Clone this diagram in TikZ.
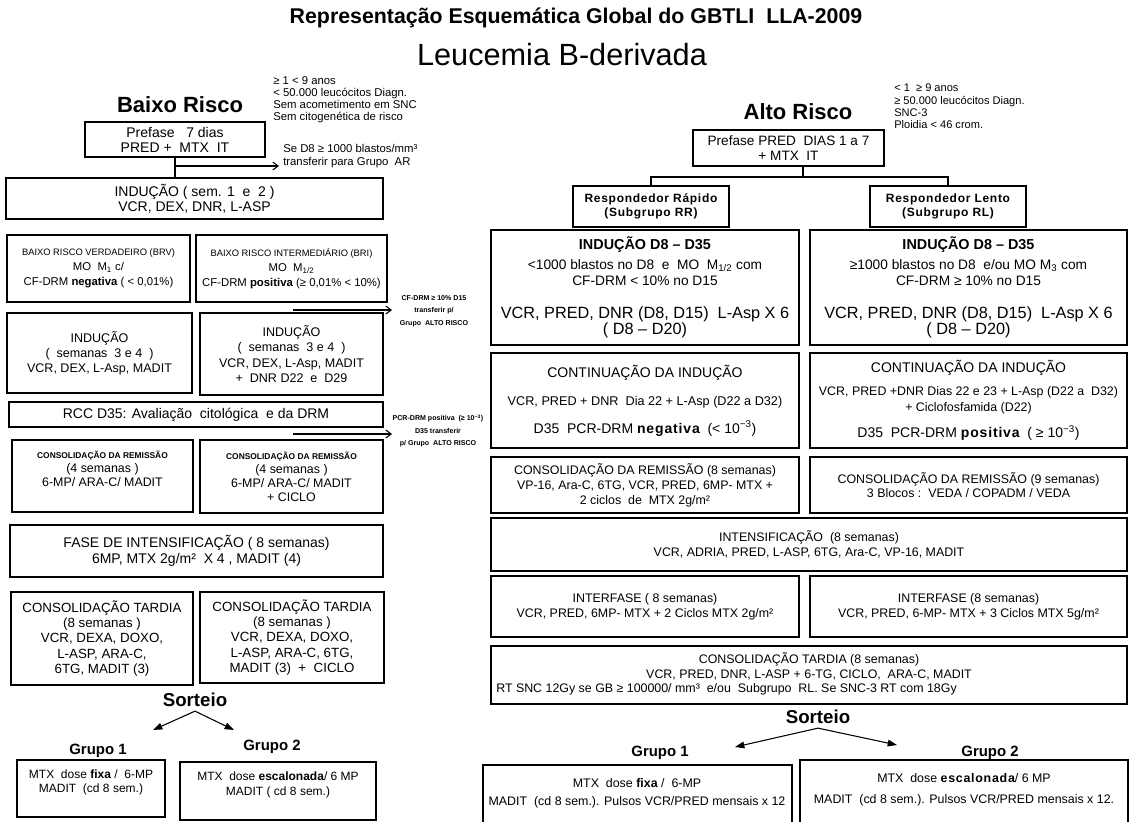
\documentclass[tikz,border=0pt]{standalone}
\usepackage{fontspec}
\setmainfont{Liberation Sans}
\newfontfamily\spacedfont[LetterSpace=6]{Liberation Sans}
\usetikzlibrary{arrows.meta}
\newcommand{\fs}[2]{\fontsize{#1pt}{#2pt}\selectfont}
\newcommand{\sbf}[1]{{\spacedfont\bfseries #1}}
% framed box given by two corners (pixel units)
\newcommand{\bx}[7][]{\node[box,minimum width={(#5-#3)*0.75pt},minimum height={(#6-#4)*0.75pt},#1] (#2) at ({(#3+#5)/2},{(#4+#6)/2}) {#7};}
\begin{document}
\begin{tikzpicture}[x=0.75pt,y=-0.75pt,
  box/.style={draw,line width=1.1pt,inner sep=1pt,align=center},
  txt/.style={inner sep=0pt,align=center},
  note/.style={inner sep=0pt,align=left,anchor=north west},
  conn/.style={line width=0.9pt},
  tarr/.style={-{Straight Barb[length=4pt,width=6pt]},line width=0.8pt},
  sarr/.style={-{Triangle[length=7pt,width=5pt]},line width=0.8pt}]
\useasboundingbox (0,0) rectangle (1130,821);
\fill[white] (0,0) rectangle (1130,821);

% ---------- headings ----------
\node[txt,font=\bfseries\fs{16}{19}] (title) at (576,18) {Representação Esquemática Global do GBTLI\ \ LLA-2009};
\node[txt,font=\fs{23}{27}] (subtitle) at (562,55) {Leucemia B-derivada};

% ---------- low risk branch ----------
\node[txt,font=\bfseries\fs{16.5}{20}] (br) at (180,105) {Baixo Risco};
\node[note,font=\fs{8.5}{9.2}] (brnote) at (273,76) {≥ 1 < 9 anos\\< 50.000 leucócitos Diagn.\\Sem acometimento em SNC\\Sem citogenética de risco};

\bx[font=\fs{10.5}{11.25}]{pre}{85}{122}{265}{157}{Prefase\ \ \ 7 dias\\PRED +\ \ MTX\ \ IT}
\bx[font=\fs{10.5}{11.25}]{ind}{6}{178}{383}{219}{INDUÇÃO ( sem. 1\ \ e\ \ 2 )\\VCR, DEX, DNR, L-ASP}
\draw[conn] (pre.south) -- (pre.south |- ind.north);
\coordinate (tj) at (175,166);
\coordinate (te) at (279,166);
\draw[tarr] (tj) -- (te);
\node[note,font=\fs{8.5}{9.5}] (trar) at (283,144) {Se D8 ≥ 1000 blastos/mm³\\transferir para Grupo\ \ AR};

\bx[font=\fs{8.5}{11.25}]{brv}{7}{235}{190}{302}{{\fs{7}{8}BAIXO RISCO VERDADEIRO (BRV)}\\MO\ \ M\textsubscript{1} c/\\CF-DRM \textbf{negativa} ( < 0,01\%)}
\bx[font=\fs{8.5}{11.25}]{bri}{196}{235}{387}{302}{{\fs{7}{8}BAIXO RISCO INTERMEDIÁRIO (BRI)}\\MO\ \ M\textsubscript{1/2}\\CF-DRM \textbf{positiva} (≥ 0,01\% < 10\%)}

\coordinate (t1s) at (293,310);
\coordinate (t1e) at (392,310);
\draw[tarr] (t1s) -- (t1e);
\node[txt,font=\bfseries\fs{5.3}{9.4}] (tr1) at (434,311) {CF-DRM ≥ 10\% D15\\transferir p/\\Grupo\ \ ALTO RISCO};

\bx[font=\fs{9.4}{11.25}]{ia}{7}{313}{192}{393}{INDUÇÃO\\(\ \ semanas\ \ 3 e 4\ \ )\\VCR, DEX, L-Asp, MADIT}
\bx[font=\fs{9.4}{11.5}]{ib}{200}{313}{383}{395}{INDUÇÃO\\(\ \ semanas\ \ 3 e 4\ \ )\\VCR, DEX, L-Asp, MADIT\\+\ \ DNR D22\ \ e\ \ D29}

\bx[font=\fs{10.5}{12}]{rcc}{9}{402}{383}{427}{RCC D35: Avaliação\ \ citológica\ \ e da DRM}

\coordinate (t2s) at (293,434);
\coordinate (t2e) at (392,434);
\draw[tarr] (t2s) -- (t2e);
\node[txt,font=\bfseries\fs{5.3}{9.4}] (tr2) at (438,431) {PCR-DRM positiva\ \ (≥ 10\textsuperscript{−3})\\D35 transferir\\p/ Grupo\ \ ALTO RISCO};

\bx[font=\fs{9.3}{10.5}]{cra}{12}{440}{193}{512}{{\bfseries\fs{6.3}{7}CONSOLIDAÇÃO DA REMISSÃO}\\(4 semanas )\\6-MP/ ARA-C/ MADIT\\\mbox{}}
\bx[font=\fs{9.3}{10.5}]{crb}{200}{440}{383}{513}{{\bfseries\fs{6.3}{7}CONSOLIDAÇÃO DA REMISSÃO}\\(4 semanas )\\6-MP/ ARA-C/ MADIT\\+ CICLO}

\bx[font=\fs{10.5}{12}]{fase}{10}{525}{383}{577}{FASE DE INTENSIFICAÇÃO ( 8 semanas)\\6MP, MTX 2g/m²\ \ X 4 , MADIT (4)}

\bx[font=\fs{10}{11.5}]{cta}{11}{592}{193}{685}{CONSOLIDAÇÃO TARDIA\\(8 semanas )\\VCR, DEXA, DOXO,\\L-ASP, ARA-C,\\6TG, MADIT (3)}
\bx[font=\fs{10}{11.5}]{ctb}{200}{592}{384}{683}{CONSOLIDAÇÃO TARDIA\\(8 semanas )\\VCR, DEXA, DOXO,\\L-ASP, ARA-C, 6TG,\\MADIT (3)\ \ +\ \ CICLO}

\node[txt,inner sep=3pt,font=\bfseries\fs{14}{16}] (sa) at (195,700) {Sorteio};
\coordinate (sa1) at (153,730);
\coordinate (sa2) at (234,730);
\draw[sarr] (sa.south) -- (sa1);
\draw[sarr] (sa.south) -- (sa2);
\node[txt,font=\bfseries\fs{11.2}{13}] (ga1) at (98,751) {Grupo 1};
\node[txt,font=\bfseries\fs{11.2}{13}] (ga2) at (272,747) {Grupo 2};
\bx{gba}{17}{760}{165}{817}{}
\node[txt,font=\fs{9}{10.5}] (gbat) at (91,782) {MTX\ \ dose \textbf{fixa} /\ \ 6-MP\\MADIT\ \ (cd 8 sem.)};
\bx{gbb}{180}{762}{376}{820}{}
\node[txt,font=\fs{9}{11.5}] (gbbt) at (278,785) {MTX\ \ dose \textbf{escalonada}/ 6 MP\\MADIT ( cd 8 sem.)};

% ---------- high risk branch ----------
\node[txt,font=\bfseries\fs{16.5}{20}] (ar) at (798,112) {Alto Risco};
\node[note,font=\fs{8.3}{9.2}] (arnote) at (894,84) {< 1\ \ ≥ 9 anos\\≥ 50.000 leucócitos Diagn.\\SNC-3\\Ploidia < 46 crom.};

\bx[font=\fs{10.2}{11.25}]{preb}{693}{130}{884}{166}{Prefase PRED\ \ DIAS 1 a 7\\+ MTX\ \ IT}
\bx[font=\fs{9}{10.5}]{rr}{573}{186}{729}{227}{\sbf{Respondedor Rápido}\\\sbf{(Subgrupo RR)}}
\bx[font=\fs{9}{10.5}]{rl}{870}{186}{1026}{227}{\sbf{Respondedor Lento}\\\sbf{(Subgrupo RL)}}
\coordinate (sj) at (803,177);
\draw[conn] (sj |- preb.south) -- (sj);
\draw[conn] (rr.north) |- (sj) -| (rl.north);

\bx[font=\fs{10.3}{12}]{da}{491}{230}{799}{345}{{\bfseries\fs{10.8}{12}INDUÇÃO D8 – D35}\\[3pt]<1000 blastos no D8\ \ e\ \ MO\ \ M\textsubscript{1/2} com\\CF-DRM < 10\% no D15\\[13pt]{\fs{12.2}{14}VCR, PRED, DNR (D8, D15)\ \ L-Asp X 6}\\{\fs{12.2}{14}( D8 – D20)}}
\bx[font=\fs{10.3}{12}]{db}{810}{230}{1127}{345}{{\bfseries\fs{10.8}{12}INDUÇÃO D8 – D35}\\[3pt]≥1000 blastos no D8\ \ e/ou MO M\textsubscript{3} com\\CF-DRM ≥ 10\% no D15\\[13pt]{\fs{12.2}{14}VCR, PRED, DNR (D8, D15)\ \ L-Asp X 6}\\{\fs{12.2}{14}( D8 – D20)}}

\bx[font=\fs{10.5}{21}]{ca}{491}{353}{799}{448}{CONTINUAÇÃO DA INDUÇÃO\\{\fs{9.5}{11}VCR, PRED + DNR\ \ Dia 22 + L-Asp (D22 a D32)}\\D35\ \ PCR-DRM \sbf{negativa}\ \ (< 10\textsuperscript{−3})}
\bx[font=\fs{9.3}{12}]{cb}{810}{353}{1127}{448}{{\fs{10.5}{12}CONTINUAÇÃO DA INDUÇÃO}\\[5pt]VCR, PRED +DNR Dias 22 e 23 + L-Asp (D22 a\ \ D32)\\+ Ciclofosfamida (D22)\\[8pt]{\fs{10.5}{12}D35\ \ PCR-DRM \sbf{positiva}\ \ ( ≥ 10\textsuperscript{−3})}}

\bx[font=\fs{9.3}{11.25}]{rma}{491}{457}{799}{513}{CONSOLIDAÇÃO DA REMISSÃO (8 semanas)\\VP-16, Ara-C, 6TG, VCR, PRED, 6MP- MTX +\\2 ciclos\ \ de\ \ MTX 2g/m²}
\bx[font=\fs{9.3}{10.5}]{rmb}{810}{457}{1127}{513}{CONSOLIDAÇÃO DA REMISSÃO (9 semanas)\\3 Blocos :\ \ VEDA / COPADM / VEDA}

\bx[font=\fs{9.3}{11.25}]{intf}{491}{518}{1127}{571}{INTENSIFICAÇÃO\ \ (8 semanas)\\VCR, ADRIA, PRED, L-ASP, 6TG, Ara-C, VP-16, MADIT}

\bx[font=\fs{9.3}{11.5}]{ifa}{491}{576}{799}{637}{INTERFASE ( 8 semanas)\\VCR, PRED, 6MP- MTX + 2 Ciclos MTX 2g/m²}
\bx[font=\fs{9.3}{11.5}]{ifb}{810}{576}{1127}{637}{INTERFASE (8 semanas)\\VCR, PRED, 6-MP- MTX + 3 Ciclos MTX 5g/m²}

\bx{ctr}{491}{646}{1127}{704}{}
\node[txt,font=\fs{9.3}{11.25}] (ctrt) at (809,666) {CONSOLIDAÇÃO TARDIA (8 semanas)\\VCR, PRED, DNR, L-ASP + 6-TG, CICLO,\ \ ARA-C, MADIT};
\node[txt,anchor=west,font=\fs{9.3}{11}] (ctrn) at (496,689) {RT SNC 12Gy se GB ≥ 100000/ mm³\ \ e/ou\ \ Subgrupo\ \ RL. Se SNC-3 RT com 18Gy};

\node[txt,inner sep=3pt,font=\bfseries\fs{14}{16}] (sb) at (818,717) {Sorteio};
\coordinate (sb1) at (735,747);
\coordinate (sb2) at (897,745);
\draw[sarr] (sb.south) -- (sb1);
\draw[sarr] (sb.south) -- (sb2);
\node[txt,font=\bfseries\fs{11.2}{13}] (gc1) at (660,753) {Grupo 1};
\node[txt,font=\bfseries\fs{11.2}{13}] (gc2) at (990,753) {Grupo 2};
\bx{gca}{483}{765}{792}{835}{}
\node[txt,font=\fs{9.3}{13.5}] (gcat) at (637,793) {MTX\ \ dose \textbf{fixa} /\ \ 6-MP\\MADIT\ \ (cd 8 sem.). Pulsos VCR/PRED mensais x 12};
\bx{gcb}{800}{760}{1128}{835}{}
\node[txt,font=\fs{9.3}{15.5}] (gcbt) at (964,790) {MTX\ \ dose \sbf{escalonada}/ 6 MP\\MADIT\ \ (cd 8 sem.). Pulsos VCR/PRED mensais x 12.};
\end{tikzpicture}
\end{document}
